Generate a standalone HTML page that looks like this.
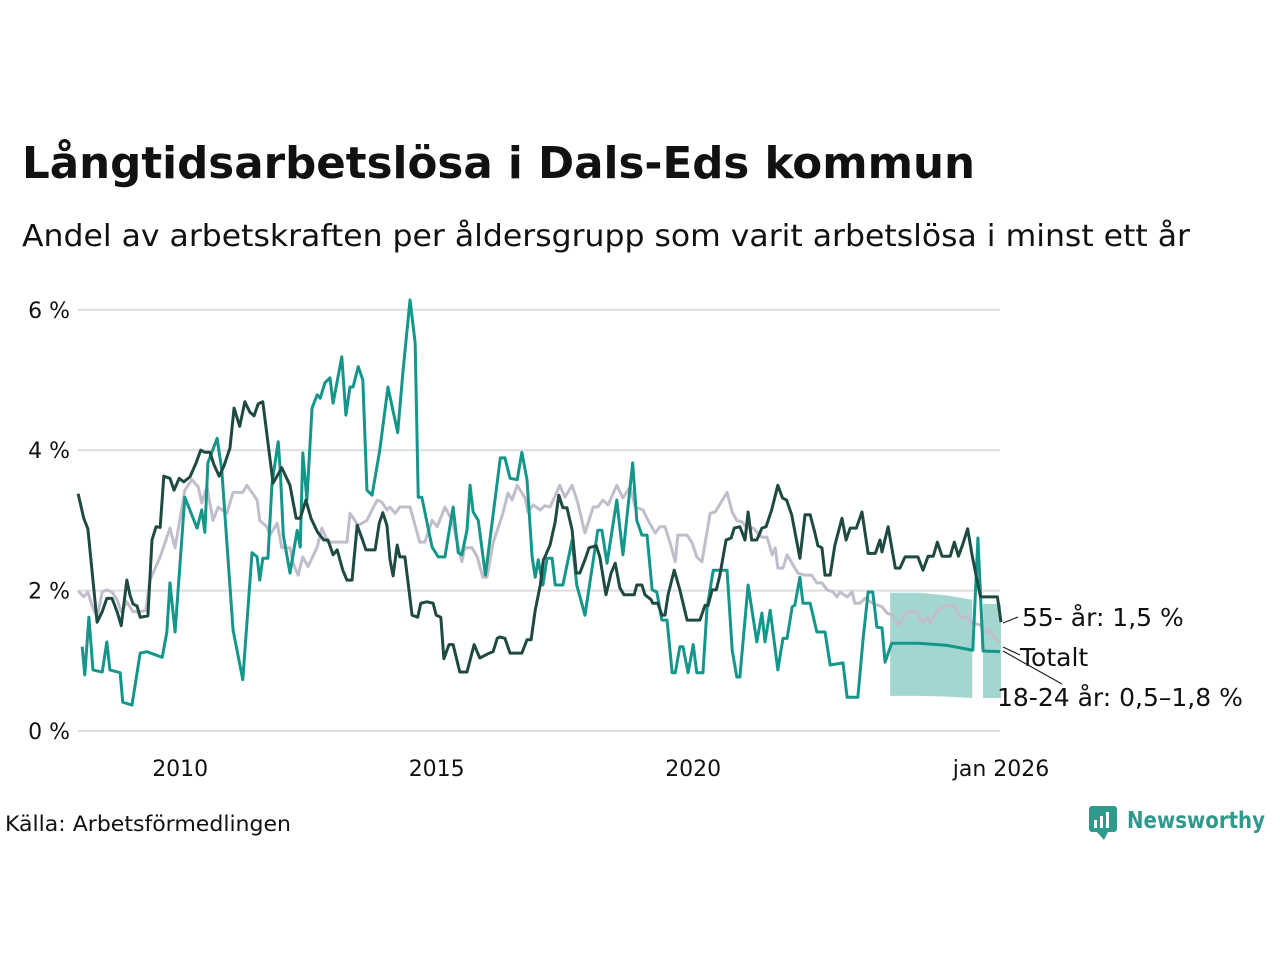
<!DOCTYPE html>
<html><head><meta charset="utf-8">
<style>
body{margin:0;background:#fff;width:1280px;height:960px;overflow:hidden;font-family:"Liberation Sans",sans-serif}
svg text{font-family:"DejaVu Sans","Liberation Sans",sans-serif}
</style></head><body>
<svg id="chart" width="1280" height="960" xmlns="http://www.w3.org/2000/svg">
<text x="22" y="178" font-size="44" font-weight="bold" fill="#111" textLength="953" lengthAdjust="spacingAndGlyphs">Långtidsarbetslösa i Dals-Eds kommun</text>
<text x="22" y="246" font-size="30" fill="#111" textLength="1168" lengthAdjust="spacingAndGlyphs">Andel av arbetskraften per åldersgrupp som varit arbetslösa i minst ett år</text>
<g id="grid"></g>
<g id="band"></g>
<g id="lines"></g>
<g id="labels">
<line x1="1003" y1="623" x2="1018" y2="617" stroke="#222" stroke-width="1.2"/>
<text x="1022" y="626" font-size="25" fill="#111">55- år: 1,5 %</text>
<line x1="1003" y1="647" x2="1020" y2="655" stroke="#222" stroke-width="1.2"/>
<text x="1020" y="666" font-size="25" fill="#111">Totalt</text>
<line x1="1003" y1="651" x2="1062" y2="684" stroke="#222" stroke-width="1.2"/>
<text x="997" y="706" font-size="25" fill="#111">18-24 år: 0,5–1,8 %</text>
</g>
<text x="5" y="831" font-size="21" fill="#111" textLength="286" lengthAdjust="spacingAndGlyphs">Källa: Arbetsförmedlingen</text>
<g>
<rect x="1089" y="806" width="28" height="26" rx="3" fill="#2f9a8c"/>
<polygon points="1097,832 1104,840 1108,832" fill="#2f9a8c"/>
<rect x="1094" y="820" width="3" height="8" fill="#fff"/><rect x="1100" y="816" width="3" height="12" fill="#fff"/><rect x="1106" y="812" width="3" height="16" fill="#fff"/>
<text x="1127" y="828" font-size="23" font-weight="bold" fill="#2f9a8c" textLength="138" lengthAdjust="spacingAndGlyphs">Newsworthy</text>
</g>
</svg>
<script>
const yTicks=[0,2,4,6];
const yTickLabels=["0 %","2 %","4 %","6 %"];
const xTicks=[2010,2015,2020,2026];
const xTickLabels=["2010","2015","2020","jan 2026"];

const oldDates=[2008.01,2008.12,2008.20,2008.28,2008.38,2008.48,2008.57,2008.67,2008.77,2008.85,2008.96,2009.02,2009.08,2009.16,2009.22,2009.37,2009.45,2009.53,2009.61,2009.68,2009.80,2009.88,2009.98,2010.07,2010.19,2010.31,2010.40,2010.48,2010.58,2010.66,2010.76,2010.85,2010.97,2011.05,2011.16,2011.26,2011.36,2011.44,2011.52,2011.61,2011.81,2011.98,2012.14,2012.26,2012.34,2012.45,2012.55,2012.68,2012.80,2012.88,2012.98,2013.06,2013.17,2013.25,2013.35,2013.45,2013.54,2013.62,2013.80,2013.88,2013.95,2014.03,2014.09,2014.15,2014.23,2014.28,2014.38,2014.52,2014.63,2014.69,2014.81,2014.93,2014.99,2015.08,2015.14,2015.24,2015.32,2015.45,2015.59,2015.73,2015.84,2016.00,2016.10,2016.18,2016.23,2016.33,2016.43,2016.66,2016.76,2016.84,2016.92,2017.02,2017.08,2017.11,2017.21,2017.31,2017.38,2017.46,2017.54,2017.64,2017.72,2017.79,2017.89,2017.97,2018.11,2018.18,2018.30,2018.40,2018.48,2018.57,2018.65,2018.73,2018.85,2018.90,2019.00,2019.06,2019.18,2019.21,2019.31,2019.39,2019.45,2019.51,2019.63,2019.74,2019.88,2019.98,2020.13,2020.23,2020.29,2020.37,2020.45,2020.52,2020.64,2020.74,2020.80,2020.91,2021.01,2021.07,2021.14,2021.24,2021.34,2021.42,2021.53,2021.65,2021.74,2021.82,2021.92,2022.08,2022.18,2022.28,2022.37,2022.43,2022.51,2022.57,2022.67,2022.76,2022.90,2022.98,2023.06,2023.18,2023.29,2023.41,2023.55,2023.64,2023.68,2023.80,2023.94,2024.03,2024.13,2024.27,2024.38,2024.48,2024.58,2024.68,2024.76,2024.85,2025.01,2025.09,2025.17,2025.25,2025.35,2025.44,2025.60,2025.70,2025.80,2025.93,2026.00];
const oldValues=[3.38,3.03,2.88,2.29,1.55,1.70,1.89,1.89,1.70,1.50,2.15,1.94,1.81,1.78,1.62,1.64,2.72,2.91,2.90,3.63,3.60,3.43,3.60,3.55,3.62,3.82,4.00,3.97,3.97,3.79,3.63,3.77,4.03,4.60,4.34,4.69,4.54,4.49,4.66,4.69,3.53,3.75,3.50,3.03,3.03,3.29,3.03,2.83,2.72,2.72,2.51,2.58,2.29,2.15,2.15,2.93,2.75,2.58,2.58,2.96,3.11,2.93,2.44,2.21,2.65,2.48,2.48,1.65,1.62,1.82,1.84,1.82,1.65,1.62,1.03,1.23,1.23,0.84,0.84,1.23,1.04,1.10,1.13,1.32,1.34,1.32,1.11,1.11,1.30,1.30,1.72,2.08,2.44,2.48,2.65,2.98,3.36,3.18,3.18,2.86,2.25,2.25,2.44,2.61,2.64,2.48,1.94,2.25,2.39,2.04,1.94,1.94,1.94,2.08,2.08,1.94,1.87,1.82,1.82,1.65,1.65,1.94,2.29,2.01,1.58,1.58,1.58,1.79,1.79,2.01,2.01,2.22,2.72,2.75,2.89,2.91,2.72,3.12,2.72,2.72,2.89,2.91,3.15,3.50,3.32,3.29,3.08,2.46,3.08,3.08,2.83,2.64,2.61,2.22,2.22,2.64,3.03,2.72,2.89,2.89,3.12,2.53,2.53,2.72,2.55,2.91,2.32,2.32,2.48,2.48,2.48,2.29,2.49,2.49,2.69,2.49,2.49,2.69,2.49,2.65,2.88,2.49,1.91,1.91,1.91,1.91,1.55];

const youngDates=[2008.09,2008.14,2008.22,2008.30,2008.48,2008.57,2008.63,2008.83,2008.88,2009.06,2009.22,2009.35,2009.65,2009.74,2009.80,2009.90,2010.09,2010.29,2010.33,2010.42,2010.48,2010.54,2010.72,2010.81,2011.03,2011.22,2011.40,2011.50,2011.55,2011.61,2011.71,2011.79,2011.91,2011.95,2012.01,2012.14,2012.28,2012.34,2012.39,2012.47,2012.57,2012.67,2012.73,2012.82,2012.92,2012.98,2013.15,2013.23,2013.31,2013.37,2013.47,2013.56,2013.64,2013.74,2013.89,2014.05,2014.24,2014.34,2014.48,2014.58,2014.64,2014.71,2014.91,2015.03,2015.16,2015.32,2015.42,2015.49,2015.59,2015.65,2015.71,2015.81,2015.95,2016.24,2016.33,2016.43,2016.57,2016.66,2016.76,2016.86,2016.92,2016.98,2017.07,2017.15,2017.25,2017.31,2017.46,2017.64,2017.73,2017.89,2018.14,2018.22,2018.32,2018.51,2018.63,2018.82,2018.90,2019.00,2019.10,2019.20,2019.29,2019.39,2019.49,2019.59,2019.65,2019.74,2019.80,2019.90,2020.00,2020.07,2020.19,2020.27,2020.39,2020.66,2020.76,2020.85,2020.91,2021.07,2021.24,2021.34,2021.40,2021.50,2021.65,2021.75,2021.83,2021.93,2021.98,2022.08,2022.14,2022.28,2022.41,2022.57,2022.67,2022.92,2023.00,2023.21,2023.31,2023.41,2023.50,2023.58,2023.68,2023.74,2023.87,2024.40,2024.95,2025.45,2025.55,2025.65,2025.98];
const youngValues=[1.20,0.80,1.62,0.87,0.84,1.27,0.87,0.83,0.41,0.37,1.11,1.13,1.05,1.41,2.11,1.41,3.33,2.96,2.89,3.15,2.83,3.82,4.17,3.72,1.44,0.73,2.54,2.48,2.15,2.46,2.46,3.53,4.12,3.72,2.79,2.25,2.86,2.62,3.96,3.29,4.60,4.79,4.74,4.96,5.03,4.67,5.33,4.50,4.90,4.90,5.19,5.00,3.43,3.36,4.00,4.90,4.25,5.10,6.14,5.53,3.33,3.33,2.62,2.48,2.48,3.19,2.54,2.51,2.86,3.50,3.12,3.00,2.22,3.89,3.89,3.60,3.58,3.97,3.58,2.48,2.19,2.44,2.08,2.46,2.46,2.08,2.08,2.72,2.08,1.65,2.86,2.86,2.39,3.29,2.51,3.82,3.00,2.79,2.79,2.01,1.98,1.58,1.58,0.83,0.83,1.20,1.20,0.83,1.23,0.83,0.83,1.75,2.29,2.29,1.15,0.77,0.77,2.08,1.27,1.68,1.27,1.72,0.87,1.32,1.32,1.77,1.79,2.19,1.82,1.82,1.41,1.41,0.94,0.97,0.48,0.48,1.30,1.98,1.98,1.48,1.47,0.98,1.25,1.25,1.22,1.15,2.75,1.14,1.13];

const totalDates=[2008.01,2008.12,2008.20,2008.28,2008.38,2008.48,2008.57,2008.67,2008.77,2008.85,2008.96,2009.08,2009.22,2009.33,2009.41,2009.61,2009.80,2009.90,2010.09,2010.23,2010.35,2010.42,2010.52,2010.64,2010.74,2010.91,2011.03,2011.22,2011.30,2011.50,2011.55,2011.69,2011.75,2011.89,2011.98,2012.14,2012.20,2012.30,2012.39,2012.49,2012.67,2012.76,2012.88,2013.06,2013.25,2013.31,2013.47,2013.64,2013.74,2013.84,2013.93,2014.03,2014.09,2014.19,2014.28,2014.48,2014.67,2014.77,2014.91,2015.01,2015.16,2015.30,2015.49,2015.55,2015.69,2015.79,2015.90,2015.98,2016.10,2016.29,2016.39,2016.47,2016.57,2016.72,2016.78,2016.88,2017.02,2017.11,2017.21,2017.40,2017.50,2017.64,2017.75,2017.89,2018.05,2018.14,2018.24,2018.34,2018.51,2018.63,2018.77,2018.87,2019.02,2019.12,2019.26,2019.35,2019.45,2019.55,2019.65,2019.70,2019.88,2019.98,2020.07,2020.17,2020.33,2020.43,2020.66,2020.76,2020.85,2020.95,2021.05,2021.17,2021.34,2021.44,2021.54,2021.60,2021.65,2021.75,2021.83,2021.95,2022.04,2022.18,2022.31,2022.41,2022.51,2022.61,2022.73,2022.80,2022.86,2023.00,2023.10,2023.15,2023.25,2023.35,2023.50,2023.68,2023.78,2023.89,2023.99,2024.17,2024.36,2024.46,2024.56,2024.62,2024.77,2024.95,2025.07,2025.20,2025.34,2025.44,2025.60,2025.73,2025.79,2025.88,2025.98];
const totalValues=[2.00,1.91,1.98,1.79,1.62,1.98,2.01,1.98,1.87,1.70,1.84,1.70,1.70,1.72,2.15,2.48,2.89,2.61,3.43,3.58,3.48,3.25,3.48,3.00,3.19,3.10,3.40,3.40,3.50,3.29,3.00,2.91,2.79,2.96,2.61,2.61,2.39,2.22,2.48,2.34,2.62,2.89,2.69,2.69,2.69,3.10,2.93,3.00,3.15,3.29,3.26,3.15,3.19,3.10,3.19,3.19,2.69,2.69,3.00,2.91,3.19,3.00,2.41,2.61,2.61,2.48,2.19,2.19,2.68,3.10,3.39,3.29,3.50,3.32,3.12,3.22,3.15,3.21,3.19,3.50,3.33,3.50,3.25,2.82,3.19,3.19,3.29,3.22,3.50,3.32,3.48,3.19,3.15,3.00,2.82,2.91,2.91,2.68,2.41,2.79,2.79,2.68,2.48,2.41,3.10,3.12,3.40,3.12,3.00,2.98,2.89,2.89,2.76,2.76,2.51,2.61,2.32,2.32,2.51,2.36,2.25,2.22,2.22,2.11,2.11,2.01,1.98,1.91,1.98,1.91,1.98,1.82,1.82,1.89,1.82,1.77,1.68,1.65,1.51,1.70,1.70,1.54,1.62,1.55,1.72,1.79,1.79,1.62,1.62,1.54,1.51,1.40,1.44,1.32,1.27];

const bandDates=[2023.84,2024.40,2024.95,2025.44,2025.65,2026.00];
const bandLow=[0.50,0.50,0.49,0.47,0.47,0.47];
const bandHigh=[1.97,1.97,1.93,1.87,1.81,1.81];

const X0=77.6,PXY=51.3,Y0=731,PXV=70.2;
function xs(t){return X0+(t-2008)*PXY;}
function ys(v){return Y0-v*PXV;}
const NS="http://www.w3.org/2000/svg";
const grid=document.getElementById('grid');
yTicks.forEach((v,i)=>{
  const l=document.createElementNS(NS,'line');
  l.setAttribute('x1',78);l.setAttribute('x2',1000);
  l.setAttribute('y1',ys(v));l.setAttribute('y2',ys(v));
  l.setAttribute('stroke','#dedde2');l.setAttribute('stroke-width',2);
  
  
  grid.appendChild(l);
  const t=document.createElementNS(NS,'text');
  t.setAttribute('x',70);t.setAttribute('y',ys(v)+8);t.setAttribute('text-anchor','end');
  t.setAttribute('font-size',22);t.setAttribute('fill','#111');t.textContent=yTickLabels[i];
  
  
  grid.appendChild(t);
});
xTicks.forEach((v,i)=>{
  const t=document.createElementNS(NS,'text');
  t.setAttribute('x',xs(v));t.setAttribute('y',776);t.setAttribute('text-anchor','middle');
  t.setAttribute('font-size',22);t.setAttribute('fill','#111');t.textContent=xTickLabels[i];
  
  
  grid.appendChild(t);
});
function bandPath(i0,i1){
  let d='';
  for(let i=i0;i<=i1;i++)d+=(i===i0?'M':'L')+xs(bandDates[i])+','+ys(bandHigh[i]);
  for(let i=i1;i>=i0;i--)d+='L'+xs(bandDates[i])+','+ys(bandLow[i]);
  return d+'Z';
}
const bg=document.getElementById('band');
[[0,3],[4,5]].forEach(r=>{
  const p=document.createElementNS(NS,'path');
  p.setAttribute('d',bandPath(r[0],r[1]));p.setAttribute('fill','#a3d6d0');
  
  
  bg.appendChild(p);
});
function line(dates,vals,color,name){
  const p=document.createElementNS(NS,'polyline');
  p.setAttribute('points',dates.map((d,i)=>xs(d)+','+ys(vals[i])).join(' '));
  p.setAttribute('fill','none');p.setAttribute('stroke',color);p.setAttribute('stroke-width',3);
  p.setAttribute('stroke-linejoin','round');
  
  
  document.getElementById('lines').appendChild(p);
}
line(totalDates,totalValues,'#c1bdcc','line-totalt');
line(youngDates,youngValues,'#14968a','line-18-24');
line(oldDates,oldValues,'#1f4a42','line-55');
</script>
</body></html>
